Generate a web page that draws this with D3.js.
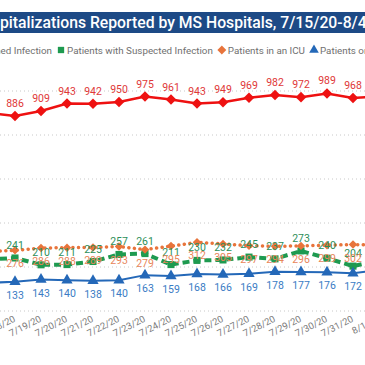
<!DOCTYPE html>
<html lang="en">
<head>
<meta charset="UTF-8">
<title>chart</title>
<style>
  body { margin: 0; background: #fff; }
  svg { display: block; font-family: Roboto, "DejaVu Sans", sans-serif; }
</style>
</head>
<body>
<script src="https://cdn.jsdelivr.net/npm/d3@7/dist/d3.min.js"></script>
<script>
// data (7/17 and 8/1 only partly visible at the edges, estimated)
const dates = ['7/17/20', '7/18/20', '7/19/20', '7/20/20', '7/21/20', '7/22/20', '7/23/20', '7/24/20',
  '7/25/20', '7/26/20', '7/27/20', '7/28/20', '7/29/20', '7/30/20', '7/31/20', '8/1/20'];
const confirmed = [900, 886, 909, 943, 942, 950, 975, 961, 943, 949, 969, 982, 972, 989, 968, 975];
const suspected = [235, 241, 210, 211, 225, 257, 261, 211, 230, 232, 245, 237, 273, 240, 204, 230];
const icu = [270, 276, 286, 288, 289, 293, 279, 295, 312, 305, 297, 294, 296, 299, 302, 300];
const vent = [128, 133, 143, 140, 138, 140, 163, 159, 168, 166, 169, 178, 177, 176, 172, 185];
const yTicks = [0, 200, 400, 600, 800, 1000];
const legendNames = ['Patients with Confirmed Infection', 'Patients with Suspected Infection',
  'Patients in an ICU', 'Patients on Ventilators'];
const title = 'COVID-19 Hospitalizations Reported by MS Hospitals, 7/15/20-8/4/20';

const width = 365, height = 365;
const svg = d3.select('body').append('svg')
  .attr('width', width).attr('height', height);

const x = d3.scalePoint().domain(dates).range([-11, 379]);
const y = d3.scaleLinear().domain([0, 1000]).range([311, 91]);

// title bar (the chart is cropped, title starts off the left edge)
svg.append('rect').attr('x', 0).attr('y', 12).attr('width', width).attr('height', 21).attr('fill', '#1d4a86');
const t = svg.append('text').attr('y', 28).attr('fill', '#fff')
  .style('font-size', '15px').style('font-weight', 500).text(title);
const cut = 12, endAt = title.indexOf('8/4') + 3;
const visW = t.node().getSubStringLength(cut, endAt - cut);
t.style('font-size', (15 * 367 / visW) + 'px');
t.attr('x', -t.node().getSubStringLength(0, cut));

// gridlines
svg.append('g').selectAll('line').data(yTicks).join('line')
  .attr('x1', 0).attr('x2', width)
  .attr('y1', d => y(d)).attr('y2', d => y(d))
  .attr('stroke', '#c8c8c8').attr('stroke-width', 1).attr('stroke-dasharray', '1,3');

// x axis labels
svg.append('g').selectAll('text').data(dates).join('text')
  .attr('transform', d => `translate(${x(d) + 1},321) rotate(-27)`)
  .attr('text-anchor', 'end')
  .attr('fill', '#7a7a7a').style('font-size', '9.5px')
  .text(d => d);

const diamond = size => 'rotate(45)';
const series = [
  { name: legendNames[1], values: suspected, color: '#1e9a50', label: '#2e8f5a', width: 4, dash: '7,4', cap: 'butt', shape: d3.symbolSquare, size: 50, rot: 0, above: true },
  { name: legendNames[2], values: icu, color: '#e8743b', label: '#e8865a', width: 3.5, dash: '0.1,5.5', cap: 'round', shape: d3.symbolSquare, size: 36, rot: 45, above: false },
  { name: legendNames[3], values: vent, color: '#2468b8', label: '#3a7cc4', width: 2, dash: null, cap: 'butt', shape: d3.symbolTriangle, size: 55, rot: 0, above: false },
  { name: legendNames[0], values: confirmed, color: '#ee1111', label: '#e03838', width: 2.5, dash: null, cap: 'butt', shape: d3.symbolSquare, size: 56, rot: 45, above: true }
];

const line = d3.line().x((d, i) => x(dates[i])).y(d => y(d));

series.forEach(s => {
  const g = svg.append('g');
  g.append('path').datum(s.values)
    .attr('d', line).attr('fill', 'none')
    .attr('stroke', s.color).attr('stroke-width', s.width)
    .attr('stroke-dasharray', s.dash).attr('stroke-linecap', s.cap);
  g.selectAll('path.pt').data(s.values).join('path').attr('class', 'pt')
    .attr('transform', (d, i) => `translate(${x(dates[i])},${y(d)}) rotate(${s.rot})`)
    .attr('d', d3.symbol().type(s.shape).size(s.size))
    .attr('fill', s.color);
});

// data labels
series.forEach(s => {
  svg.append('g').selectAll('text').data(s.values).join('text')
    .attr('x', (d, i) => x(dates[i]))
    .attr('y', d => y(d) + (s.above ? -9 : 17))
    .attr('text-anchor', 'middle')
    .attr('fill', s.label).style('font-size', '10.5px')
    .text(d => d);
});

// legend
const legendItems = [series[3], series[0], series[1], series[2]];
const lg = svg.append('g').attr('transform', 'translate(0,50)');
const probe = lg.append('text').style('font-size', '11px').text(legendNames[1]);
const lgSize = 11 * 146 / probe.node().getComputedTextLength();
probe.remove();
let cx = 0;
const placed = [];
legendItems.forEach(s => {
  const it = lg.append('g');
  const shape = s === series[3] ? d3.symbolCircle : s.shape;
  it.append('path').attr('transform', `rotate(${s === series[3] ? 0 : s.rot})`)
    .attr('d', d3.symbol().type(shape).size(40)).attr('fill', s.color);
  const tx = it.append('text').attr('x', 6).attr('y', 4)
    .attr('fill', '#707070').style('font-size', lgSize + 'px').text(s.name);
  placed.push({ it, x: cx });
  cx += 6 + tx.node().getComputedTextLength() + 9;
});
// green square sits at x=61
const shift = 61 - placed[1].x;
placed.forEach(p => p.it.attr('transform', `translate(${p.x + shift},0)`));
</script>
</body>
</html>
